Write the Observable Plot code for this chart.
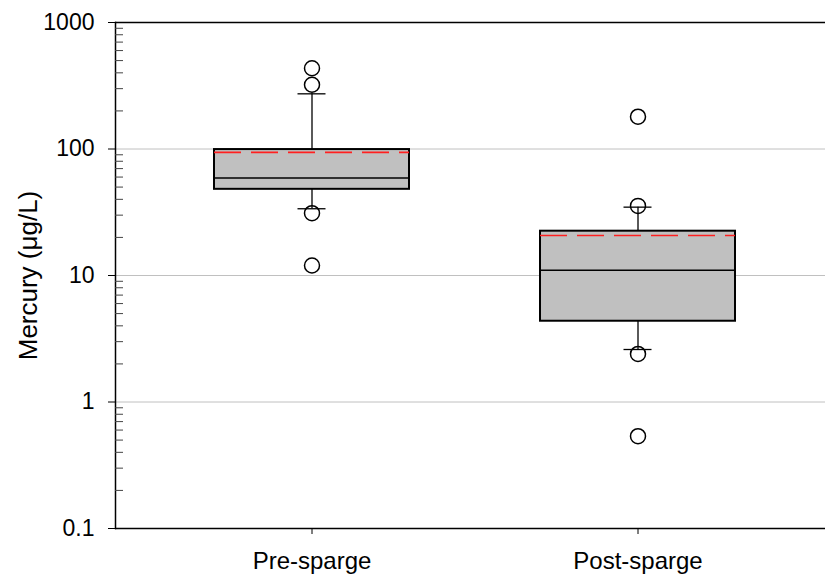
<!DOCTYPE html>
<html><head><meta charset="utf-8">
<script src="https://cdn.jsdelivr.net/npm/d3@7"></script>
<script src="https://cdn.jsdelivr.net/npm/@observablehq/plot@0.6"></script>
<style>body{margin:0;background:#fff;font-family:"Liberation Sans",Arial,sans-serif;}</style>
</head><body><div id="chart"></div>
<script>
const categories = ["Pre-sparge", "Post-sparge"];
const q1 = [48, 4.35];
const median = [59, 11];
const q3 = [99, 22.4];
const mean = [94, 20.7];
const whiskerLow = [33.7, 2.6];
const whiskerHigh = [273, 34.7];
const outlierGroup = ["Pre-sparge", "Pre-sparge", "Pre-sparge", "Pre-sparge", "Post-sparge", "Post-sparge", "Post-sparge", "Post-sparge"];
const outlierValue = [435, 322, 31.1, 12.0, 180, 35.5, 2.4, 0.537];
const majorTicks = [0.1, 1, 10, 100, 1000];
const majorLabels = ["0.1", "1", "10", "100", "1000"];
const gridTicks = [1, 10, 100];
const minorTicks = [0.2,0.3,0.4,0.5,0.6,0.7,0.8,0.9, 2,3,4,5,6,7,8,9, 20,30,40,50,60,70,80,90, 200,300,400,500,600,700,800,900];
const yLabel = "Mercury (μg/L)";

const boxes = categories.map((c, i) => ({cat: c, q1: q1[i], med: median[i], q3: q3[i], mean: mean[i], lo: whiskerLow[i], hi: whiskerHigh[i]}));
const outliers = outlierValue.map((v, i) => ({cat: outlierGroup[i], v}));

const chart = Plot.plot({
  width: 825,
  height: 576,
  marginLeft: 115,
  marginRight: 0,
  marginTop: 22,
  marginBottom: 48,
  style: {fontFamily: "'Liberation Sans', Arial, sans-serif", fontSize: "22px", background: "#fff"},
  x: {type: "band", domain: categories, range: [115, 834], paddingInner: 0.4006, paddingOuter: 0.2997},
  y: {type: "log", domain: [0.1, 1000]},
  marks: [
    Plot.ruleY(gridTicks, {stroke: "#c0c0c0", strokeWidth: 1}),
    Plot.ruleX(boxes, {x: "cat", y1: "q3", y2: "hi", stroke: "black", strokeWidth: 1.3}),
    Plot.ruleX(boxes, {x: "cat", y1: "lo", y2: "q1", stroke: "black", strokeWidth: 1.3}),
    Plot.tickY(boxes, {x: "cat", y: "hi", inset: 83.5, stroke: "black", strokeWidth: 1.3}),
    Plot.tickY(boxes, {x: "cat", y: "lo", inset: 83.5, stroke: "black", strokeWidth: 1.3}),
    Plot.barY(boxes, {x: "cat", y1: "q1", y2: "q3", fill: "#c0c0c0", stroke: "black", strokeWidth: 2}),
    Plot.tickY(boxes, {x: "cat", y: "med", stroke: "black", strokeWidth: 1.5}),
    Plot.tickY(boxes, {x: "cat", y: "mean", stroke: "#ff2020", strokeWidth: 1.6, strokeDasharray: "27,10"}),
    Plot.dot(outliers, {x: "cat", y: "v", r: 7.5, stroke: "black", strokeWidth: 1.5, fill: "none"}),
    Plot.ruleY([0.1, 1000], {stroke: "black", strokeWidth: 1.5}),
    Plot.frame({anchor: "left", stroke: "black", strokeWidth: 1.5}),
    Plot.axisY(minorTicks, {anchor: "left", tickSize: 8, dx: 8, tickFormat: () => "", label: null, stroke: "#444"}),
    Plot.axisY(majorTicks, {anchor: "left", tickSize: 7, tickPadding: 14, fontSize: 23, tickFormat: d => majorLabels[majorTicks.indexOf(d)], label: null, stroke: "black"}),
    Plot.axisX({tickSize: 6, tickPadding: 17, fontSize: 24, label: null}),
    Plot.text([yLabel], {frameAnchor: "left", rotate: -90, textAnchor: "middle", dx: -87, fontSize: 26, fill: "black"})
  ]
});
document.getElementById("chart").appendChild(chart);
</script>
</body></html>
